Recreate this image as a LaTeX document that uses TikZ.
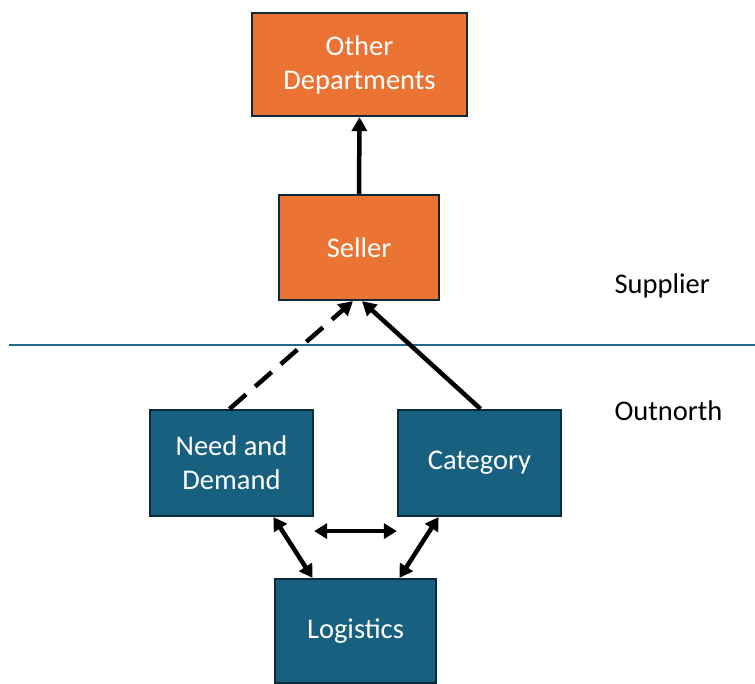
\documentclass[tikz,border=0pt]{standalone}
\usepackage{fontspec}
\setmainfont{Carlito}
\usetikzlibrary{arrows.meta}
\definecolor{orangebox}{RGB}{235,115,52}
\definecolor{tealbox}{RGB}{24,96,128}
\definecolor{boxedge}{RGB}{14,42,58}
\definecolor{divider}{RGB}{30,104,138}
\tikzset{
  box/.style={draw=boxedge, line width=2.2pt, text=white, align=center,
    inner sep=0pt, font=\fontsize{28.5}{34}\selectfont},
  orangeb/.style={box, fill=orangebox},
  tealb/.style={box, fill=tealbox},
  conn/.style={line width=4.5pt, -{Triangle[length=14pt,width=15pt]}},
  biconn/.style={line width=4.5pt, {Triangle[length=13pt,width=15pt]}-{Triangle[length=13pt,width=15pt]}},
  side/.style={anchor=west, font=\fontsize{28.5}{34}\selectfont}
}
\begin{document}
\begin{tikzpicture}[x=1pt,y=-1pt]
  \useasboundingbox (0,0) rectangle (755,684);
  % divider between supplier and company sides
  \draw[divider, line width=2.2pt] (9,345) -- (755,345);
  % boxes
  \node[orangeb, minimum width=215pt, minimum height=103pt] (od) at (359.5,64.5) {Other\\Departments};
  \node[orangeb, minimum width=160pt, minimum height=105pt] (seller) at (359,247.5) {Seller};
  \node[tealb, minimum width=163pt, minimum height=106pt] (need) at (231.5,463) {Need and\\Demand};
  \node[tealb, minimum width=163pt, minimum height=106pt] (cat) at (479.5,463) {Category};
  \node[tealb, minimum width=161pt, minimum height=104pt] (log) at (355.5,631) {Logistics};
  % side labels
  \node[side] (sup) at (611,286) {Supplier};
  \node[side] (out) at (611,411) {Outnorth};
  % connectors
  \draw[conn] (seller.north) -- (od.south);
  \draw[conn, dash pattern=on 22pt off 12pt] ([xshift=-2pt]need.north) -- ([xshift=-6pt]seller.south);
  \draw[conn] ([xshift=1pt]cat.north) -- ([xshift=3pt]seller.south);
  \draw[biconn] ([yshift=-14pt]need.south east) -- ([yshift=-14pt]cat.south west);
  \draw[biconn] ([xshift=42pt]need.south) -- ([xshift=-43pt]log.north);
  \draw[biconn] ([xshift=-41pt]cat.south) -- ([xshift=44pt]log.north);
\end{tikzpicture}
\end{document}
